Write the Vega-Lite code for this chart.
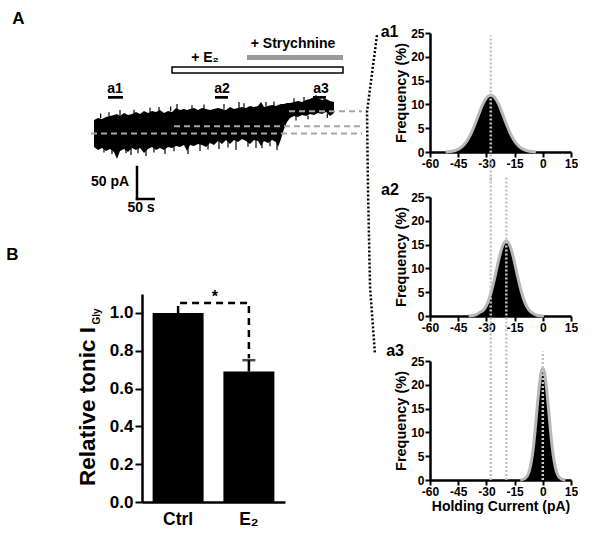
{
  "$schema": "https://vega.github.io/schema/vega-lite/v6.json",
  "padding": {"left": 6, "top": 10, "right": 0, "bottom": 0},
  "background": "white",
  "config": {
    "view": {"stroke": null},
    "font": "Liberation Sans",
    "axis": {"labelFont": "Liberation Sans", "titleFont": "Liberation Sans", "labelColor": "black", "titleColor": "black", "domainColor": "black", "tickColor": "black", "grid": false},
    "text": {"font": "Liberation Sans"}
  },
  "datasets": {
    "trace": [
      {"t":0,"I":-7.1,"I2":-49.25},{"t":12,"I":-3.9,"I2":-53.9},{"t":24,"I":-5.5,"I2":-50.8},{"t":36,"I":-2.4,"I2":-55.5},
      {"t":48,"I":-0.8,"I2":-52.4},{"t":60,"I":0.75,"I2":-57.1},{"t":69,"I":2.3,"I2":-68},{"t":78,"I":-0.8,"I2":-55.5},
      {"t":90,"I":3.9,"I2":-52.4},{"t":102,"I":0.75,"I2":-57.1},{"t":114,"I":2.3,"I2":-50.8},{"t":126,"I":5.4,"I2":-53.9},
      {"t":138,"I":2.3,"I2":-50.8},{"t":150,"I":7,"I2":-58.6},{"t":162,"I":3.9,"I2":-52.4},{"t":174,"I":7,"I2":-49.25},
      {"t":186,"I":5.4,"I2":-53.9},{"t":198,"I":8.6,"I2":-50.8},{"t":210,"I":3.9,"I2":-53.9},{"t":222,"I":7,"I2":-49.25},
      {"t":234,"I":5.4,"I2":-50.8},{"t":246,"I":11.7,"I2":-47.7},{"t":258,"I":8.6,"I2":-49.25},{"t":270,"I":10.1,"I2":-46.1},
      {"t":279,"I":8.6,"I2":-55.5},{"t":288,"I":10.1,"I2":-46.1},{"t":300,"I":11.7,"I2":-47.7},{"t":312,"I":8.6,"I2":-44.6},
      {"t":324,"I":11.7,"I2":-46.1},{"t":336,"I":10.1,"I2":-49.25},{"t":348,"I":8.6,"I2":-43},{"t":360,"I":10.1,"I2":-46.1},
      {"t":372,"I":11.7,"I2":-39.9},{"t":384,"I":10.1,"I2":-44.6},{"t":396,"I":8.6,"I2":-38.3},{"t":408,"I":13.25,"I2":-44.6},
      {"t":420,"I":10.1,"I2":-38.3},{"t":432,"I":11.7,"I2":-41.4},{"t":444,"I":13.25,"I2":-36.75},{"t":456,"I":11.7,"I2":-39.9},
      {"t":468,"I":14.8,"I2":-44.6},{"t":480,"I":13.25,"I2":-38.3},{"t":492,"I":14.8,"I2":-39.9},{"t":501,"I":21.1,"I2":-47.7},
      {"t":510,"I":13.25,"I2":-39.9},{"t":522,"I":14.8,"I2":-43},{"t":534,"I":16.4,"I2":-38.3},{"t":546,"I":14.8,"I2":-41.4},
      {"t":552,"I":16.4,"I2":-49.25},{"t":561,"I":17.9,"I2":-36.75},{"t":570,"I":17.9,"I2":-21.1},{"t":579,"I":19.5,"I2":-10.2},
      {"t":588,"I":19.5,"I2":-3.9},{"t":600,"I":21.1,"I2":-0.8},{"t":612,"I":22.6,"I2":-2.4},{"t":624,"I":21.1,"I2":0.75},
      {"t":636,"I":24.2,"I2":-0.8},{"t":648,"I":25.75,"I2":2.3},{"t":660,"I":28.9,"I2":0.75},{"t":672,"I":27.3,"I2":3.9},
      {"t":684,"I":24.2,"I2":2.3},{"t":696,"I":25.75,"I2":5.4},{"t":708,"I":22.6,"I2":-0.8},{"t":720,"I":21.1,"I2":3.9}
    ],
    "spikes": [
      {"t":111,"I":-45,"I2":-61.75},{"t":156,"I":-45,"I2":-63.3},{"t":213,"I":-45,"I2":-60.2},{"t":318,"I":-40,"I2":-55.5},
      {"t":375,"I":-36,"I2":-52.4},{"t":426,"I":-34,"I2":-53.9},{"t":504,"I":-34,"I2":-50.8},{"t":549,"I":-34,"I2":-53.9},
      {"t":30,"I":-45,"I2":-58},{"t":54,"I":-45,"I2":-60},{"t":96,"I":-45,"I2":-59},{"t":132,"I":-45,"I2":-59},
      {"t":180,"I":-44,"I2":-58},{"t":240,"I":-42,"I2":-56},{"t":282,"I":-42,"I2":-60},{"t":342,"I":-40,"I2":-53},
      {"t":402,"I":-36,"I2":-50},{"t":462,"I":-35,"I2":-49},{"t":486,"I":-34,"I2":-51},{"t":528,"I":-34,"I2":-48},
      {"t":606,"I":0,"I2":-8},{"t":642,"I":0,"I2":-6},{"t":700,"I":3,"I2":-4},
      {"t":78,"I":-1,"I2":8.6},{"t":195,"I":5,"I2":13.25},{"t":249,"I":8,"I2":17.9},{"t":435,"I":10,"I2":21.1},{"t":666,"I":25,"I2":32},
      {"t":20,"I":-4,"I2":3},{"t":45,"I":-2,"I2":5},{"t":120,"I":2,"I2":9},{"t":168,"I":5,"I2":12},{"t":230,"I":7,"I2":14},
      {"t":294,"I":9,"I2":16},{"t":330,"I":10,"I2":17},{"t":390,"I":10,"I2":18},{"t":450,"I":12,"I2":19},{"t":516,"I":14,"I2":21},
      {"t":540,"I":15,"I2":22},{"t":600,"I":20,"I2":27},{"t":630,"I":22,"I2":29},{"t":690,"I":24,"I2":30}
    ],
    "h1": [
      {"x":-51.7,"f":0},{"x":-49.7,"f":0.09},{"x":-47.7,"f":0.2},{"x":-45.7,"f":0.44},{"x":-43.7,"f":0.88},{"x":-41.7,"f":1.62},
      {"x":-39.7,"f":2.75},{"x":-37.7,"f":4.3},{"x":-35.7,"f":6.2},{"x":-33.7,"f":8.3},{"x":-31.7,"f":10.2},{"x":-29.7,"f":11.5},
      {"x":-27.7,"f":12},{"x":-25.7,"f":11.5},{"x":-23.7,"f":10.2},{"x":-21.7,"f":8.3},{"x":-19.7,"f":6.2},{"x":-17.7,"f":4.3},
      {"x":-15.7,"f":2.75},{"x":-13.7,"f":1.62},{"x":-11.7,"f":0.88},{"x":-9.7,"f":0.44},{"x":-7.7,"f":0.2},{"x":-5.7,"f":0.09},{"x":-3.7,"f":0}
    ],
    "h2": [
      {"x":-39.4,"f":0},{"x":-37.4,"f":0.1},{"x":-35.4,"f":0.3},{"x":-33.4,"f":0.8},{"x":-31.4,"f":1.3},{"x":-29.4,"f":2.7},
      {"x":-27.4,"f":5.1},{"x":-25.4,"f":8.3},{"x":-23.4,"f":11.9},{"x":-21.4,"f":14.7},{"x":-19.4,"f":15.8},{"x":-17.4,"f":14.7},
      {"x":-15.4,"f":11.9},{"x":-13.4,"f":8.3},{"x":-11.4,"f":5.1},{"x":-9.4,"f":2.7},{"x":-7.4,"f":1.3},{"x":-5.4,"f":0.6},
      {"x":-3.4,"f":0.2},{"x":-1.4,"f":0.05},{"x":0.6,"f":0}
    ],
    "h3": [
      {"x":-12,"f":0},{"x":-11,"f":0.07},{"x":-10,"f":0.2},{"x":-9,"f":0.5},{"x":-8,"f":1.1},{"x":-7,"f":2.2},{"x":-6,"f":4.1},
      {"x":-5,"f":6.9},{"x":-4,"f":10.8},{"x":-3,"f":15.2},{"x":-2,"f":19.3},{"x":-1,"f":22.4},{"x":0,"f":23.5},{"x":1,"f":22.4},
      {"x":2,"f":19.3},{"x":3,"f":15.2},{"x":4,"f":10.8},{"x":5,"f":6.9},{"x":6,"f":4.06},{"x":7,"f":2.15},{"x":8,"f":1.04},
      {"x":9,"f":0.45},{"x":10,"f":0.18},{"x":11,"f":0.07},{"x":12,"f":0}
    ]
  },
  "spacing": -2,
  "hconcat": [
    {
      "spacing": 75,
      "bounds": "flush",
      "vconcat": [
        {
          "width": 222,
          "height": 186,
          "encoding": {
            "x": {"field": "t", "type": "quantitative", "scale": {"domain": [144, 810], "nice": false, "zero": false}, "axis": null},
            "y": {"field": "I", "type": "quantitative", "scale": {"domain": [-161.75, 128.875], "nice": false, "zero": false}, "axis": null}
          },
          "layer": [
            {"data": {"name": "trace"}, "mark": {"type": "area", "color": "black", "clip": false}, "encoding": {"y2": {"field": "I2"}}},
            {"data": {"name": "spikes"}, "mark": {"type": "rule", "color": "black", "strokeWidth": 1.2, "clip": false}, "encoding": {"y2": {"field": "I2"}}},
            {"data": {"values": [{"t": -9, "t2": 804, "I": -28}, {"t": 240, "t2": 804, "I": -17}, {"t": 585, "t2": 804, "I": 6.5}]},
             "mark": {"type": "rule", "color": "#a6a6a6", "strokeWidth": 2, "strokeDash": [6, 4], "clip": false}, "encoding": {"x2": {"field": "t2"}}},
            {"data": {"values": [{"t": 234, "t2": 747, "I": 66.4, "I2": 75.8}]},
             "mark": {"type": "rect", "fill": "white", "stroke": "black", "strokeWidth": 1.5, "clip": false}, "encoding": {"x2": {"field": "t2"}, "y2": {"field": "I2"}}},
            {"data": {"values": [{"t": 459, "t2": 747, "I": 86.7, "I2": 94.5}]},
             "mark": {"type": "rect", "fill": "#999999", "clip": false}, "encoding": {"x2": {"field": "t2"}, "y2": {"field": "I2"}}},
            {"data": {"values": [{"t": 42, "t2": 87, "I": 26.2, "I2": 30.4}, {"t": 363, "t2": 402, "I": 26.2, "I2": 30.4}, {"t": 657, "t2": 696, "I": 26.2, "I2": 30.4}]},
             "mark": {"type": "rect", "fill": "black", "clip": false}, "encoding": {"x2": {"field": "t2"}, "y2": {"field": "I2"}}},
            {"data": {"values": [{"t": 129, "t2": 129, "I": -80.5, "I2": -130.5}, {"t": 129, "t2": 179, "I": -130.5, "I2": -130.5}]},
             "mark": {"type": "rule", "color": "black", "strokeWidth": 2.5, "strokeCap": "square", "clip": false}, "encoding": {"x2": {"field": "t2"}, "y2": {"field": "I2"}}},
            {"data": {"values": [
               {"t": 597, "I": 111.7, "label": "+ Strychnine"}, {"t": 333, "I": 89.8, "label": "+ E₂"},
               {"t": 63, "I": 41.4, "label": "a1"}, {"t": 384, "I": 41.4, "label": "a2"}, {"t": 681, "I": 41.4, "label": "a3"},
               {"t": 48, "I": -104, "label": "50 pA"}, {"t": 141, "I": -144.6, "label": "50 s"}]},
             "mark": {"type": "text", "fontSize": 14, "fontWeight": "bold", "baseline": "middle", "align": "center", "color": "black", "clip": false},
             "encoding": {"text": {"field": "label"}}},
            {"data": {"values": [{"t": -226.5, "I": 150.75, "label": "A"}]},
             "mark": {"type": "text", "fontSize": 17, "fontWeight": "bold", "baseline": "middle", "align": "center", "color": "black", "clip": false},
             "encoding": {"text": {"field": "label"}}}
          ]
        },
        {
          "width": 143,
          "height": 208,
          "resolve": {"scale": {"x": "independent"}, "axis": {"x": "independent"}},
          "layer": [
            {
              "encoding": {
                "x": {"field": "cond", "type": "nominal", "sort": null,
                      "scale": {"domain": ["Ctrl", "E₂"], "paddingInner": 0.28, "paddingOuter": 0.15},
                      "axis": {"title": null, "ticks": false, "labelFontSize": 17.5, "labelFontWeight": "bold", "labelAngle": 0, "labelPadding": 8, "domainWidth": 2.5}},
                "y": {"field": "v", "type": "quantitative", "scale": {"domain": [0, 1.1], "nice": false},
                      "axis": {"values": [0, 0.2, 0.4, 0.6, 0.8, 1.0], "format": ".1f", "title": "Relative tonic I", "titleFontSize": 22.5, "titleFontWeight": "bold",
                               "titlePadding": 10, "titleY": 112, "labelFontSize": 17, "labelFontWeight": "bold", "tickSize": 7, "tickWidth": 2, "domainWidth": 2.5, "labelPadding": 2}}
              },
              "layer": [
                {"data": {"values": [{"cond": "Ctrl", "v": 1.0}, {"cond": "E₂", "v": 0.69}]}, "mark": {"type": "bar", "color": "black"}},
                {"data": {"values": [{"cond": "E₂", "v": 0.69, "v2": 0.75}]}, "mark": {"type": "rule", "color": "black", "strokeWidth": 2.5}, "encoding": {"y2": {"field": "v2"}}},
                {"data": {"values": [{"cond": "E₂", "v": 0.75}]}, "mark": {"type": "tick", "color": "black", "thickness": 2.5, "size": 13}},
                {"data": {"values": [{"cond": "Ctrl", "v": 1.0, "k": 1}, {"cond": "Ctrl", "v": 1.053, "k": 2}, {"cond": "E₂", "v": 1.053, "k": 3}, {"cond": "E₂", "v": 0.76, "k": 4}]},
                 "mark": {"type": "line", "color": "black", "strokeWidth": 2.5, "strokeDash": [7, 5]}, "encoding": {"order": {"field": "k"}}}
              ]
            },
            {
              "encoding": {
                "x": {"field": "xp", "type": "quantitative", "scale": {"domain": [0, 1], "nice": false, "zero": false}, "axis": null},
                "y": {"field": "v", "type": "quantitative"},
                "text": {"field": "label"}
              },
              "layer": [
                {"data": {"values": [{"xp": 0.51, "v": 1.085, "label": "*"}]}, "mark": {"type": "text", "fontSize": 16, "fontWeight": "bold", "baseline": "middle", "color": "black", "clip": false}},
                {"data": {"values": [{"xp": -0.315, "v": 0.981, "label": "Gly"}]}, "mark": {"type": "text", "fontSize": 10, "fontWeight": "bold", "angle": 270, "baseline": "middle", "color": "black", "clip": false}},
                {"data": {"values": [{"xp": -0.906, "v": 1.307, "label": "B"}]}, "mark": {"type": "text", "fontSize": 17, "fontWeight": "bold", "baseline": "middle", "align": "center", "color": "black", "clip": false}}
              ]
            }
          ]
        }
      ]
    },
    {
      "spacing": 45,
      "bounds": "flush",
      "vconcat": [
        {
          "width": 141, "height": 119,
          "encoding": {
            "x": {"field": "x", "type": "quantitative", "scale": {"domain": [-60, 15], "nice": false, "zero": false},
                  "axis": {"values": [-60, -45, -30, -15, 0, 15], "labelExpr": "(datum.value < 0 ? '-' : '') + abs(datum.value)", "labelFontSize": 12, "labelFontWeight": "bold", "tickSize": 5, "tickWidth": 2, "domainWidth": 2.5, "labelPadding": 1, "labelFlush": false, "labelOverlap": false, "title": null}},
            "y": {"field": "f", "type": "quantitative", "scale": {"domain": [0, 25], "nice": false},
                  "axis": {"values": [0, 5, 10, 15, 20, 25], "labelFontSize": 12, "labelFontWeight": "bold", "tickSize": 5, "tickWidth": 2, "domainWidth": 2.5, "labelPadding": 1, "title": "Frequency (%)", "titleFontSize": 14.5, "titleFontWeight": "bold", "titlePadding": 2}}
          },
          "layer": [
            {"data": {"name": "h1"}, "mark": {"type": "area", "color": "black", "interpolate": "monotone"}},
            {"data": {"name": "h1"}, "mark": {"type": "line", "color": "#b8b8b8", "strokeWidth": 3, "interpolate": "monotone"}},
            {"data": {"values": [{"x": -27.7, "f": -6, "f2": 24.5}]}, "mark": {"type": "rule", "color": "#c4c4c4", "strokeWidth": 2.5, "strokeDash": [2, 2], "clip": false},
             "encoding": {"y2": {"field": "f2"}}},
            {"data": {"values": [{"x": -81.5, "f": 25.3, "label": "a1"}]}, "mark": {"type": "text", "fontSize": 16, "fontWeight": "bold", "baseline": "middle", "align": "center", "color": "black", "clip": false},
             "encoding": {"text": {"field": "label"}}}
          ]
        },
        {
          "width": 141, "height": 119,
          "encoding": {
            "x": {"field": "x", "type": "quantitative", "scale": {"domain": [-60, 15], "nice": false, "zero": false},
                  "axis": {"values": [-60, -45, -30, -15, 0, 15], "labelExpr": "(datum.value < 0 ? '-' : '') + abs(datum.value)", "labelFontSize": 12, "labelFontWeight": "bold", "tickSize": 5, "tickWidth": 2, "domainWidth": 2.5, "labelPadding": 1, "labelFlush": false, "labelOverlap": false, "title": null}},
            "y": {"field": "f", "type": "quantitative", "scale": {"domain": [0, 25], "nice": false},
                  "axis": {"values": [0, 5, 10, 15, 20, 25], "labelFontSize": 12, "labelFontWeight": "bold", "tickSize": 5, "tickWidth": 2, "domainWidth": 2.5, "labelPadding": 1, "title": "Frequency (%)", "titleFontSize": 14.5, "titleFontWeight": "bold", "titlePadding": 2}}
          },
          "layer": [
            {"data": {"name": "h2"}, "mark": {"type": "area", "color": "black", "interpolate": "monotone"}},
            {"data": {"name": "h2"}, "mark": {"type": "line", "color": "#b8b8b8", "strokeWidth": 3, "interpolate": "monotone"}},
            {"data": {"values": [{"x": -27.7, "f": -10, "f2": 29.5}, {"x": -19.4, "f": -10, "f2": 29.5}]}, "mark": {"type": "rule", "color": "#c4c4c4", "strokeWidth": 2.5, "strokeDash": [2, 2], "clip": false},
             "encoding": {"y2": {"field": "f2"}}},
            {"data": {"values": [{"x": -88.2, "f": 59, "k": 1}, {"x": -93.5, "f": 42.9, "k": 2}, {"x": -93, "f": 27.1, "k": 3}, {"x": -91.9, "f": 6.1, "k": 4}, {"x": -89.3, "f": -7.8, "k": 5}]},
             "mark": {"type": "line", "color": "black", "strokeWidth": 2.5, "strokeDash": [2, 2], "clip": false},
             "encoding": {"order": {"field": "k"}}},
            {"data": {"values": [{"x": -81.3, "f": 26.5, "label": "a2"}]}, "mark": {"type": "text", "fontSize": 16, "fontWeight": "bold", "baseline": "middle", "align": "center", "color": "black", "clip": false},
             "encoding": {"text": {"field": "label"}}}
          ]
        },
        {
          "width": 141, "height": 119,
          "encoding": {
            "x": {"field": "x", "type": "quantitative", "scale": {"domain": [-60, 15], "nice": false, "zero": false},
                  "axis": {"values": [-60, -45, -30, -15, 0, 15], "labelExpr": "(datum.value < 0 ? '-' : '') + abs(datum.value)", "labelFontSize": 12, "labelFontWeight": "bold", "tickSize": 5, "tickWidth": 2, "domainWidth": 2.5, "labelPadding": 1, "labelFlush": false, "labelOverlap": false,
                           "title": "Holding Current (pA)", "titleFontSize": 14, "titleFontWeight": "bold", "titlePadding": 2}},
            "y": {"field": "f", "type": "quantitative", "scale": {"domain": [0, 25], "nice": false},
                  "axis": {"values": [0, 5, 10, 15, 20, 25], "labelFontSize": 12, "labelFontWeight": "bold", "tickSize": 5, "tickWidth": 2, "domainWidth": 2.5, "labelPadding": 1, "title": "Frequency (%)", "titleFontSize": 14.5, "titleFontWeight": "bold", "titlePadding": 2}}
          },
          "layer": [
            {"data": {"name": "h3"}, "mark": {"type": "area", "color": "black", "interpolate": "monotone"}},
            {"data": {"name": "h3"}, "mark": {"type": "line", "color": "#b8b8b8", "strokeWidth": 3, "interpolate": "monotone"}},
            {"data": {"values": [{"x": -27.7, "f": 0, "f2": 25}, {"x": -19.4, "f": 0, "f2": 25}, {"x": 0, "f": 0, "f2": 27}]}, "mark": {"type": "rule", "color": "#c4c4c4", "strokeWidth": 2.5, "strokeDash": [2, 2], "clip": false},
             "encoding": {"y2": {"field": "f2"}}},
            {"data": {"values": [{"x": -78.6, "f": 27.1, "label": "a3"}]}, "mark": {"type": "text", "fontSize": 16, "fontWeight": "bold", "baseline": "middle", "align": "center", "color": "black", "clip": false},
             "encoding": {"text": {"field": "label"}}}
          ]
        }
      ]
    }
  ]
}
